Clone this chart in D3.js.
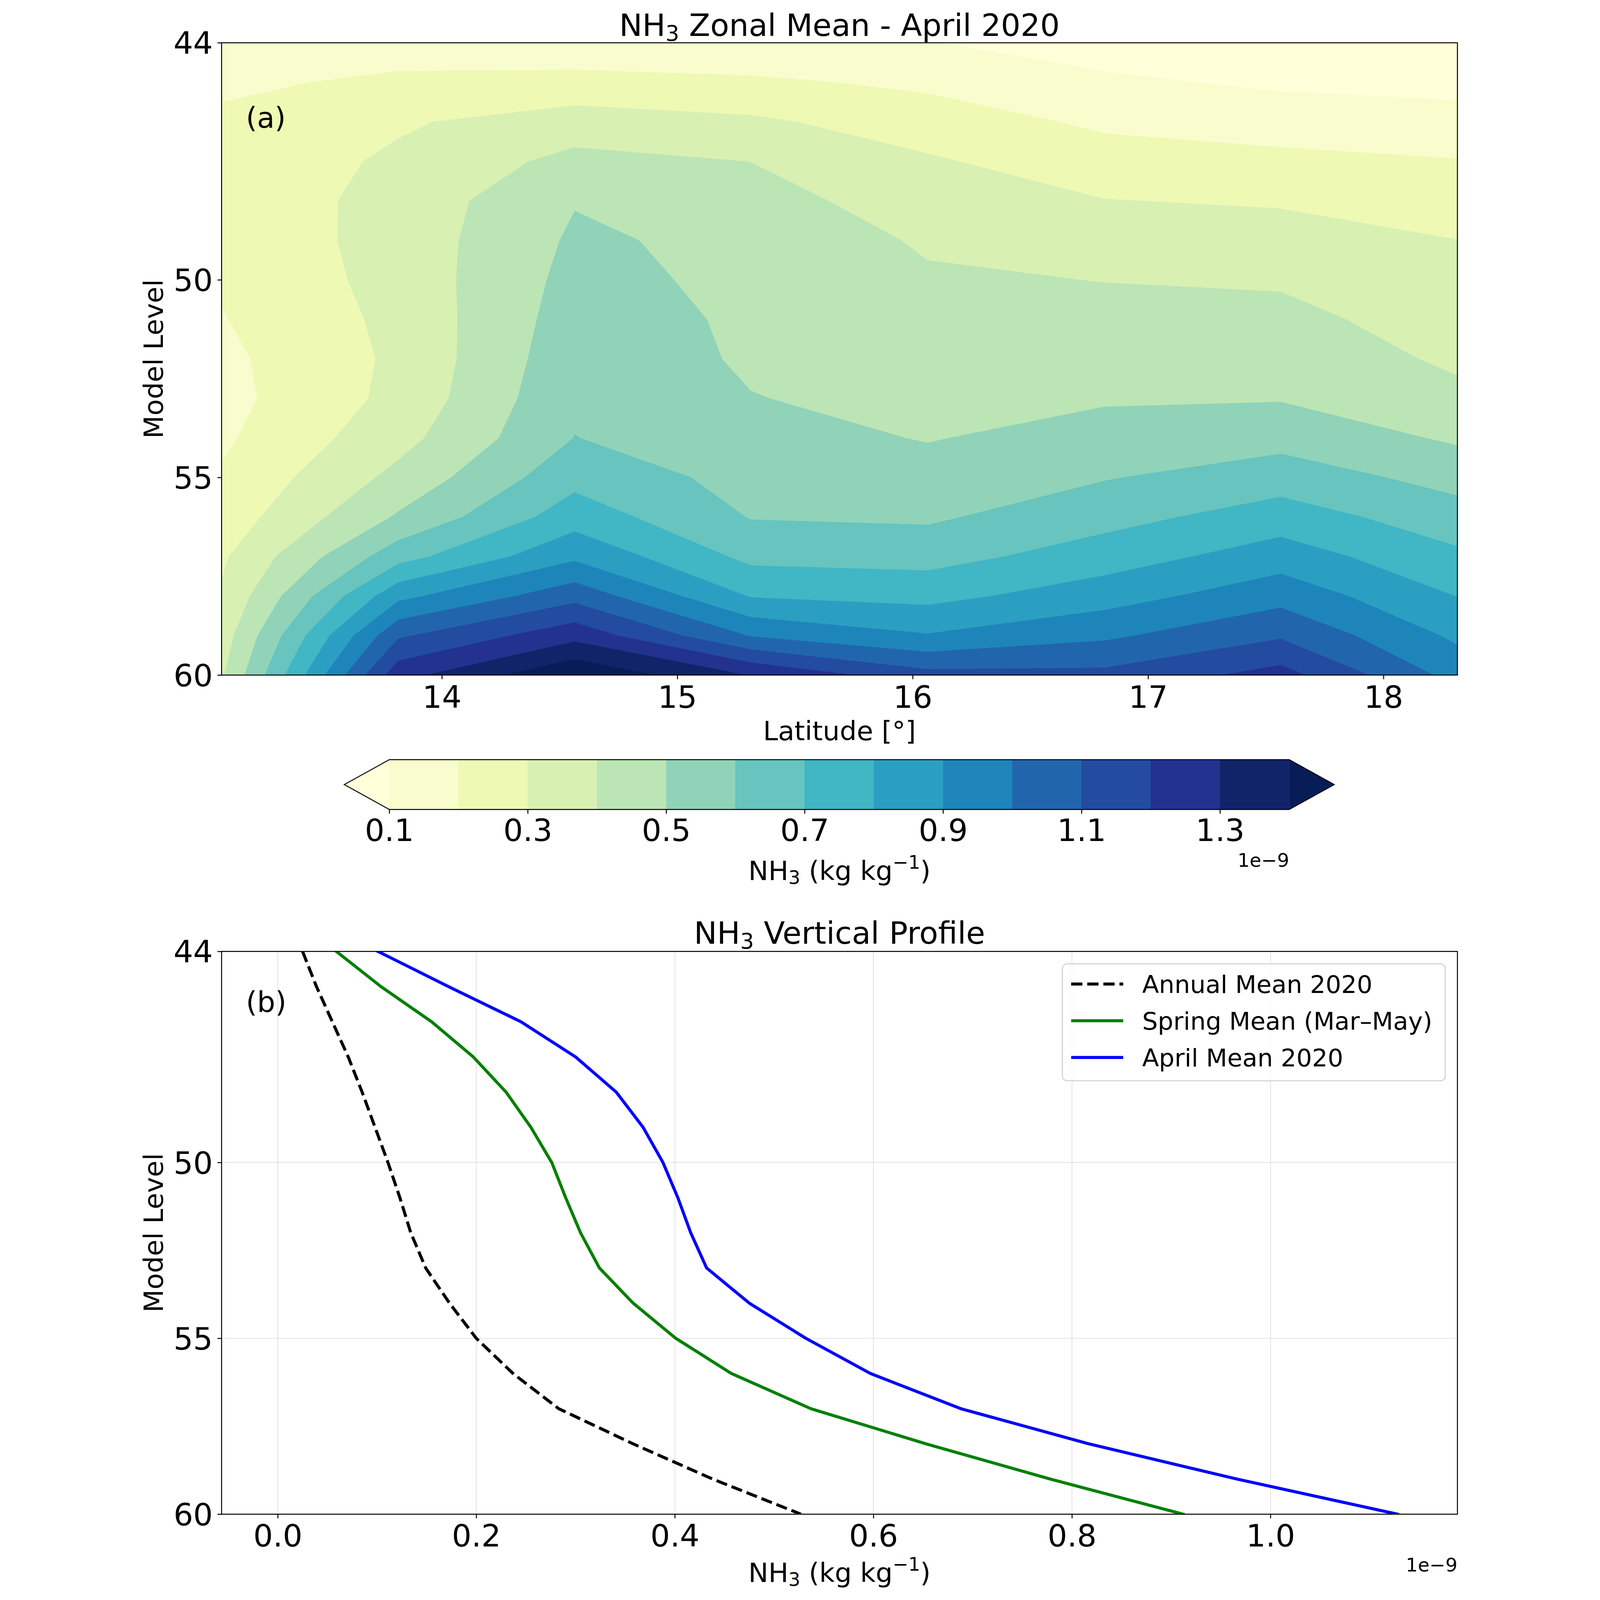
<!DOCTYPE html>
<html>
<head>
<meta charset="utf-8">
<script src="https://cdn.jsdelivr.net/npm/d3@7"></script>
<style>
  html, body { margin: 0; padding: 0; background: #ffffff; width: 100%; height: 100%; overflow: hidden; }
  svg { display: block; width: 100vw; height: 100vh; }
  text { white-space: pre; }
</style>
</head>
<body>
<svg id="chart" viewBox="0 0 5511 6582" preserveAspectRatio="xMidYMid meet" xmlns="http://www.w3.org/2000/svg"></svg>
<script>
// ---------------- DATA ----------------
// Panel (a): zonal mean NH3 (units of 1e-9 kg/kg); rows = model levels 44..60, columns = latitudes
const latitudes = [13.064, 13.814, 14.564, 15.314, 16.064, 16.814, 17.564, 18.314];
const modelLevels = [44, 45, 46, 47, 48, 49, 50, 51, 52, 53, 54, 55, 56, 57, 58, 59, 60];
const zonalMean = [
  [0.140, 0.150, 0.124, 0.114, 0.104, 0.054, 0.040, 0.020],
  [0.180, 0.220, 0.236, 0.218, 0.180, 0.118, 0.084, 0.070],
  [0.220, 0.289, 0.346, 0.317, 0.252, 0.182, 0.155, 0.138],
  [0.240, 0.315, 0.430, 0.399, 0.312, 0.244, 0.225, 0.205],
  [0.230, 0.336, 0.495, 0.440, 0.349, 0.303, 0.290, 0.254],
  [0.224, 0.340, 0.515, 0.474, 0.387, 0.350, 0.341, 0.301],
  [0.210, 0.336, 0.531, 0.476, 0.413, 0.398, 0.389, 0.329],
  [0.195, 0.325, 0.548, 0.484, 0.434, 0.429, 0.426, 0.356],
  [0.177, 0.318, 0.566, 0.487, 0.454, 0.460, 0.460, 0.383],
  [0.168, 0.327, 0.583, 0.503, 0.475, 0.490, 0.494, 0.424],
  [0.184, 0.365, 0.602, 0.535, 0.495, 0.538, 0.565, 0.486],
  [0.211, 0.428, 0.668, 0.565, 0.537, 0.594, 0.653, 0.564],
  [0.240, 0.512, 0.754, 0.595, 0.585, 0.665, 0.749, 0.643],
  [0.285, 0.661, 0.880, 0.673, 0.662, 0.750, 0.851, 0.720],
  [0.310, 0.873, 1.065, 0.793, 0.769, 0.855, 0.964, 0.798],
  [0.350, 1.086, 1.267, 0.994, 0.907, 0.982, 1.088, 0.880],
  [0.386, 1.265, 1.490, 1.295, 1.134, 1.127, 1.238, 0.963]
];
const contourLevels = [0.1, 0.2, 0.3, 0.4, 0.5, 0.6, 0.7, 0.8, 0.9, 1.0, 1.1, 1.2, 1.3, 1.4];

// Panel (b): vertical profiles (units of 1e-9 kg/kg)
const profileLevels = [44, 45, 46, 47, 48, 49, 50, 51, 52, 53, 54, 55, 56, 57, 58, 59, 60];
const annualMean = [0.025, 0.039, 0.055, 0.071, 0.085, 0.098, 0.111, 0.123, 0.134, 0.149, 0.173, 0.200, 0.237, 0.283, 0.358, 0.438, 0.527];
const springMean = [0.059, 0.104, 0.155, 0.197, 0.230, 0.255, 0.276, 0.290, 0.305, 0.324, 0.358, 0.401, 0.457, 0.537, 0.653, 0.778, 0.912];
const aprilMean  = [0.101, 0.172, 0.245, 0.300, 0.341, 0.368, 0.388, 0.403, 0.416, 0.432, 0.475, 0.532, 0.597, 0.688, 0.817, 0.966, 1.128];
const seriesNames = ["Annual Mean 2020", "Spring Mean (Mar\u2013May)", "April Mean 2020"];

// Ticks
const latTicks = [14, 15, 16, 17, 18];
const levelTicks = [44, 50, 55, 60];
const profileTicks = [0.0, 0.2, 0.4, 0.6, 0.8, 1.0];
const colorbarTicks = [0.1, 0.3, 0.5, 0.7, 0.9, 1.1, 1.3];

// ---------------- SETUP ----------------
const FONT = "DejaVu Sans";
const svg = d3.select("#chart");
svg.append("rect").attr("width", 5511).attr("height", 6582).attr("fill", "#ffffff");
const defs = svg.append("defs");

const ylgnbu = ["#ffffd9", "#edf8b1", "#c7e9b4", "#7fcdbb", "#41b6c4", "#1d91c0", "#225ea8", "#253494", "#081d58"];
const nL = contourLevels.length;
const color = d3.scaleSequential(d3.piecewise(d3.interpolateRgb, ylgnbu))
  .domain([contourLevels[0], contourLevels[nL - 1]]).clamp(true);
const underColor = color(contourLevels[0]);
const bandColors = contourLevels.map((t, i) => i < nL - 1 ? color((t + contourLevels[i + 1]) / 2) : color(t));

function richText(parent, x, y, size, parts, anchor) {
  const t = parent.append("text")
    .attr("x", x).attr("y", y)
    .attr("font-family", FONT).attr("font-size", size)
    .attr("text-anchor", anchor || "middle").attr("fill", "#000");
  let shift = 0;
  parts.forEach(p => {
    let target = 0, fs = size;
    if (p.sub) { target = 0.15 * size; fs = 0.7 * size; }
    if (p.sup) { target = -0.42 * size; fs = 0.7 * size; }
    t.append("tspan").attr("dy", target - shift).attr("font-size", fs).text(p.t);
    shift = target;
  });
  return t;
}

function styleAxis(g, size) {
  g.select(".domain").remove();
  g.attr("font-family", FONT).attr("font-size", size);
  g.selectAll(".tick line").attr("stroke", "#000").attr("stroke-width", 4);
  g.selectAll(".tick text").attr("fill", "#000");
}

// ---------------- PANEL (a) ----------------
const A = { l: 376, r: 5460, t: 176, b: 2777 };
const xLat = d3.scaleLinear().domain([latitudes[0], latitudes[latitudes.length - 1]]).range([A.l, A.r]);
const yLev = d3.scaleLinear().domain([modelLevels[0], modelLevels[modelLevels.length - 1]]).range([A.t, A.b]);
const gxToLat = d3.scaleLinear().domain([0.5, latitudes.length - 0.5]).range([latitudes[0], latitudes[latitudes.length - 1]]);
const gyToLev = d3.scaleLinear().domain([0.5, modelLevels.length - 0.5]).range([modelLevels[0], modelLevels[modelLevels.length - 1]]);
const proj = d3.geoTransform({
  point: function (x, y) { this.stream.point(xLat(gxToLat(x)), yLev(gyToLev(y))); }
});
const contourPath = d3.geoPath(proj);
const contourSets = d3.contours()
  .size([latitudes.length, modelLevels.length])
  .thresholds(contourLevels)(zonalMean.flat());

defs.append("clipPath").attr("id", "clipA").append("rect")
  .attr("x", A.l).attr("y", A.t).attr("width", A.r - A.l).attr("height", A.b - A.t);
const gA = svg.append("g").attr("clip-path", "url(#clipA)");
gA.append("rect").attr("x", A.l).attr("y", A.t).attr("width", A.r - A.l).attr("height", A.b - A.t).attr("fill", underColor);
gA.selectAll("path.band").data(contourSets).join("path")
  .attr("class", "band")
  .attr("d", d => contourPath(d))
  .attr("fill", (d, i) => bandColors[i])
  .attr("fill-rule", "evenodd");

svg.append("rect").attr("x", A.l).attr("y", A.t).attr("width", A.r - A.l).attr("height", A.b - A.t)
  .attr("fill", "none").attr("stroke", "#000").attr("stroke-width", 4);

const axAx = svg.append("g").attr("transform", `translate(0,${A.b})`)
  .call(d3.axisBottom(xLat).tickValues(latTicks).tickFormat(d3.format("d")).tickSize(17).tickPadding(28));
styleAxis(axAx, 127);
const axAy = svg.append("g").attr("transform", `translate(${A.l},0)`)
  .call(d3.axisLeft(yLev).tickValues(levelTicks).tickFormat(d3.format("d")).tickSize(17).tickPadding(19));
styleAxis(axAy, 127);
axAy.selectAll(".tick text").attr("dy", "0.36em");

richText(svg, (A.l + A.r) / 2, 148, 127, [{ t: "NH" }, { t: "3", sub: true }, { t: " Zonal Mean - April 2020" }]);
svg.append("text").attr("x", (A.l + A.r) / 2).attr("y", 3045).attr("text-anchor", "middle")
  .attr("font-family", FONT).attr("font-size", 110).text("Latitude [\u00b0]");
svg.append("text").attr("transform", `translate(134,${(A.t + A.b) / 2}) rotate(-90)`).attr("text-anchor", "middle")
  .attr("font-family", FONT).attr("font-size", 110).text("Model Level");
svg.append("text").attr("x", 476).attr("y", 525).attr("font-family", FONT).attr("font-size", 118).text("(a)");

// ---------------- COLORBAR ----------------
const cb = { l: 1066, r: 4768, t: 3125, b: 3330 };
const cbMid = (cb.t + cb.b) / 2;
const cbExt = 0.05 * (cb.r - cb.l);
const cbScale = d3.scaleLinear().domain([contourLevels[0], contourLevels[nL - 1]]).range([cb.l, cb.r]);
const gCb = svg.append("g");
gCb.selectAll("rect").data(d3.range(nL - 1)).join("rect")
  .attr("x", i => cbScale(contourLevels[i]))
  .attr("y", cb.t)
  .attr("width", i => cbScale(contourLevels[i + 1]) - cbScale(contourLevels[i]))
  .attr("height", cb.b - cb.t)
  .attr("fill", i => bandColors[i])
  .attr("stroke", i => bandColors[i]).attr("stroke-width", 1);
gCb.append("path").attr("d", `M${cb.l},${cb.t}L${cb.l - cbExt},${cbMid}L${cb.l},${cb.b}Z`).attr("fill", underColor);
gCb.append("path").attr("d", `M${cb.r},${cb.t}L${cb.r + cbExt},${cbMid}L${cb.r},${cb.b}Z`).attr("fill", bandColors[nL - 1]);
gCb.append("path")
  .attr("d", `M${cb.l - cbExt},${cbMid}L${cb.l},${cb.t}L${cb.r},${cb.t}L${cb.r + cbExt},${cbMid}L${cb.r},${cb.b}L${cb.l},${cb.b}Z`)
  .attr("fill", "none").attr("stroke", "#000").attr("stroke-width", 4).attr("stroke-linejoin", "miter");
const axCb = svg.append("g").attr("transform", `translate(0,${cb.b})`)
  .call(d3.axisBottom(cbScale).tickValues(colorbarTicks).tickFormat(d3.format(".1f")).tickSize(17).tickPadding(23));
styleAxis(axCb, 127);
richText(svg, (A.l + A.r) / 2, 3620, 110, [{ t: "NH" }, { t: "3", sub: true }, { t: " (kg kg" }, { t: "\u22121", sup: true }, { t: ")" }]);
svg.append("text").attr("x", cb.r).attr("y", 3565).attr("text-anchor", "end")
  .attr("font-family", FONT).attr("font-size", 78).text("1e\u22129");

// ---------------- PANEL (b) ----------------
const B = { l: 376, r: 5460, t: 3914, b: 6229 };
const xB = d3.scaleLinear().domain([-0.0566, 1.1883]).range([B.l, B.r]);
const yB = d3.scaleLinear().domain([profileLevels[0], profileLevels[profileLevels.length - 1]]).range([B.t, B.b]);

const gGrid = svg.append("g").attr("stroke", "#b0b0b0").attr("stroke-opacity", 0.3).attr("stroke-width", 4);
gGrid.selectAll("line.vx").data(profileTicks).join("line").attr("class", "vx")
  .attr("x1", d => xB(d)).attr("x2", d => xB(d)).attr("y1", B.t).attr("y2", B.b);
gGrid.selectAll("line.hy").data(levelTicks).join("line").attr("class", "hy")
  .attr("x1", B.l).attr("x2", B.r).attr("y1", d => yB(d)).attr("y2", d => yB(d));

defs.append("clipPath").attr("id", "clipB").append("rect")
  .attr("x", B.l).attr("y", B.t).attr("width", B.r - B.l).attr("height", B.b - B.t);
const gB = svg.append("g").attr("clip-path", "url(#clipB)");
const series = [
  { name: seriesNames[0], values: annualMean, color: "#000000", dash: "46.25,20", cap: "butt" },
  { name: seriesNames[1], values: springMean, color: "#008000", dash: null, cap: "square" },
  { name: seriesNames[2], values: aprilMean, color: "#0000ff", dash: null, cap: "square" }
];
const line = d3.line().x(d => xB(d[0])).y(d => yB(d[1]));
series.forEach(s => {
  gB.append("path")
    .attr("d", line(s.values.map((v, i) => [v, profileLevels[i]])))
    .attr("fill", "none").attr("stroke", s.color).attr("stroke-width", 12.5)
    .attr("stroke-linejoin", "round").attr("stroke-linecap", s.cap)
    .attr("stroke-dasharray", s.dash);
});

svg.append("rect").attr("x", B.l).attr("y", B.t).attr("width", B.r - B.l).attr("height", B.b - B.t)
  .attr("fill", "none").attr("stroke", "#000").attr("stroke-width", 4);

const axBx = svg.append("g").attr("transform", `translate(0,${B.b})`)
  .call(d3.axisBottom(xB).tickValues(profileTicks).tickFormat(d3.format(".1f")).tickSize(17).tickPadding(26));
styleAxis(axBx, 127);
const axBy = svg.append("g").attr("transform", `translate(${B.l},0)`)
  .call(d3.axisLeft(yB).tickValues(levelTicks).tickFormat(d3.format("d")).tickSize(17).tickPadding(19));
styleAxis(axBy, 127);
axBy.selectAll(".tick text").attr("dy", "0.36em");

richText(svg, (B.l + B.r) / 2, 3883, 127, [{ t: "NH" }, { t: "3", sub: true }, { t: " Vertical Profile" }]);
richText(svg, (B.l + B.r) / 2, 6508, 110, [{ t: "NH" }, { t: "3", sub: true }, { t: " (kg kg" }, { t: "\u22121", sup: true }, { t: ")" }]);
svg.append("text").attr("transform", `translate(134,${(B.t + B.b) / 2}) rotate(-90)`).attr("text-anchor", "middle")
  .attr("font-family", FONT).attr("font-size", 110).text("Model Level");
svg.append("text").attr("x", B.r).attr("y", 6465).attr("text-anchor", "end")
  .attr("font-family", FONT).attr("font-size", 78).text("1e\u22129");
svg.append("text").attr("x", 476).attr("y", 4164).attr("font-family", FONT).attr("font-size", 118).text("(b)");

// Legend
const leg = { x: 3835, y: 3965, w: 1575, h: 481 };
svg.append("rect").attr("x", leg.x).attr("y", leg.y).attr("width", leg.w).attr("height", leg.h)
  .attr("rx", 20).attr("ry", 20)
  .attr("fill", "#ffffff").attr("fill-opacity", 0.8)
  .attr("stroke", "#cccccc").attr("stroke-opacity", 0.8).attr("stroke-width", 5);
const legY = [4048, 4199, 4350];
series.forEach((s, i) => {
  svg.append("line").attr("x1", 3871).attr("x2", 4085).attr("y1", legY[i]).attr("y2", legY[i])
    .attr("stroke", s.color).attr("stroke-width", 12.5).attr("stroke-dasharray", s.dash)
    .attr("stroke-linecap", "butt");
  svg.append("text").attr("x", 4163).attr("y", legY[i] + 37)
    .attr("font-family", FONT).attr("font-size", 101).text(s.name);
});
</script>
</body>
</html>
